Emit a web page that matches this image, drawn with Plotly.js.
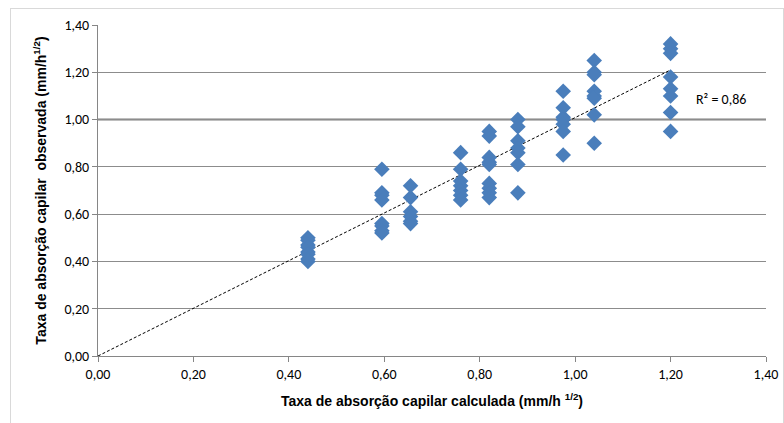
<!DOCTYPE html>
<html>
<head>
<meta charset="utf-8">
<script src="https://cdn.plot.ly/plotly-3.0.1.min.js"></script>
<style>
html,body{margin:0;padding:0;background:#fff;}
#wrap{position:relative;width:784px;height:423px;}
#chart{position:absolute;left:0;top:0;width:784px;height:423px;}
#frame{position:absolute;left:10px;top:8px;width:772px;height:420px;border:1px solid #d9d9d9;pointer-events:none;}
</style>
</head>
<body>
<div id="wrap"><div id="chart"></div><div id="frame"></div></div>
<script>
// calculated rate (x) groups and observed values (y)
const x044 = [0.44,0.44,0.44,0.44,0.44,0.44,0.44,0.44];
const y044 = [0.50,0.49,0.47,0.46,0.44,0.43,0.41,0.40];
const x060 = [0.595,0.595,0.595,0.595,0.595,0.595,0.595,0.595];
const y060 = [0.79,0.69,0.68,0.66,0.56,0.55,0.53,0.52];
const x066 = [0.655,0.655,0.655,0.655,0.655,0.655];
const y066 = [0.72,0.67,0.61,0.59,0.57,0.56];
const x076 = [0.76,0.76,0.76,0.76,0.76,0.76,0.76];
const y076 = [0.86,0.79,0.74,0.72,0.70,0.68,0.66];
const x082 = [0.82,0.82,0.82,0.82,0.82,0.82,0.82,0.82,0.82];
const y082 = [0.95,0.93,0.84,0.82,0.81,0.73,0.71,0.69,0.67];
const x088 = [0.88,0.88,0.88,0.88,0.88,0.88,0.88];
const y088 = [1.00,0.97,0.91,0.88,0.86,0.81,0.69];
const x098 = [0.975,0.975,0.975,0.975,0.975,0.975,0.975];
const y098 = [1.12,1.05,1.01,1.00,0.98,0.95,0.85];
const x104 = [1.04,1.04,1.04,1.04,1.04,1.04,1.04,1.04];
const y104 = [1.25,1.20,1.19,1.12,1.10,1.09,1.02,0.90];
const x120 = [1.20,1.20,1.20,1.20,1.20,1.20,1.20,1.20];
const y120 = [1.32,1.30,1.28,1.18,1.13,1.10,1.03,0.95];

const trendX = [0, 1.20];
const trendY = [0, 1.21];
const r2Label = "R\u00b2 = 0,86";

const xs = [].concat(x044,x060,x066,x076,x082,x088,x098,x104,x120);
const ys = [].concat(y044,y060,y066,y076,y082,y088,y098,y104,y120);

const tickFont = "Carlito, 'Liberation Sans Narrow', sans-serif";
const titleFont = "'Liberation Sans', Arial, sans-serif";

const traces = [
  {x: trendX, y: trendY, type:'scatter', mode:'lines',
   line:{color:'#000000', width:1, dash:'3px,2px'}, hoverinfo:'skip', showlegend:false},
  {x: xs, y: ys, type:'scatter', mode:'markers',
   marker:{symbol:'diamond', size:12, color:'#4a7ebb', line:{width:0}}, showlegend:false}
];

const layout = {
  width:784, height:423,
  margin:{l:98, r:18, t:25, b:67},
  paper_bgcolor:'rgba(0,0,0,0)', plot_bgcolor:'#ffffff',
  separators:', ',
  font:{family:tickFont, size:14, color:'#000'},
  showlegend:false,
  xaxis:{range:[0,1.4], dtick:0.2, tick0:0, tickformat:'.2f', showgrid:false, zeroline:false,
         showline:true, linecolor:'#868686', linewidth:1, ticks:'outside', ticklen:5, tickcolor:'#868686',
         tickfont:{family:tickFont, size:14, color:'#000'},
         title:{text:'<b>Taxa de absorção capilar calculada (mm/h <sup>1/2</sup>)</b>', font:{family:titleFont, size:14}, standoff:14}},
  yaxis:{range:[0,1.4], dtick:0.2, tick0:0, tickformat:'.2f', showgrid:true, gridcolor:'#8c8c8c', gridwidth:1,
         zeroline:false, showline:true, linecolor:'#868686', linewidth:1, ticks:'outside', ticklen:5, tickcolor:'#868686',
         tickfont:{family:tickFont, size:14, color:'#000'},
         title:{text:'<b>Taxa de absorção capilar  observada (mm/h<sup>1/2</sup>)</b>', font:{family:titleFont, size:14}, standoff:14}},
  shapes:[{type:'line', xref:'paper', yref:'y', x0:0, x1:1, y0:1, y1:1, line:{color:'#7f7f7f', width:2}, layer:'below'}],
  annotations:[{x:1.25, y:1.085, xref:'x', yref:'y', text:r2Label, showarrow:false, xanchor:'left',
                font:{family:tickFont, size:14, color:'#000'}}]
};

Plotly.newPlot('chart', traces, layout, {displayModeBar:false, staticPlot:true});
</script>
</body>
</html>
